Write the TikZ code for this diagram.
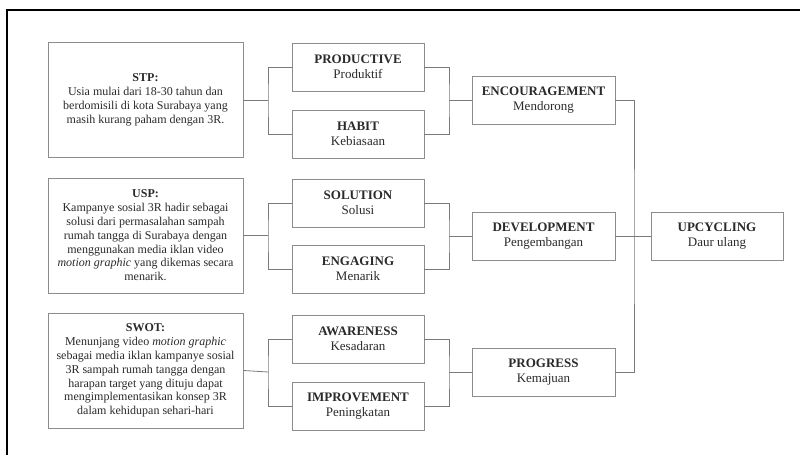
\documentclass[tikz,border=0pt]{standalone}
\usepackage{fontspec}
\setmainfont{Liberation Serif}
\definecolor{boxgray}{HTML}{8C8C8C}
\definecolor{linegray}{HTML}{7A7A7A}
\definecolor{txt}{HTML}{2A2A2A}
\begin{document}
\begin{tikzpicture}[x=1pt,y=-1pt,
  lbox/.style={draw=boxgray,line width=0.8pt,fill=white,text=txt,minimum width=195pt,minimum height=115pt,align=center,inner sep=2pt,font=\fontsize{12}{13.8}\selectfont},
  mbox/.style={draw=boxgray,line width=0.8pt,fill=white,text=txt,minimum width=132pt,minimum height=48pt,align=center,inner sep=2pt,font=\fontsize{13}{15}\selectfont},
  rbox/.style={mbox,minimum width=143pt},
  conn/.style={draw=linegray,line width=0.8pt}]
\useasboundingbox (0,0) rectangle (800,455);
\fill[white] (0,0) rectangle (800,455);
\draw[line width=2pt] (7,455) -- (7,10) -- (800,10);

% left boxes
\node[lbox] (stp) at (145.5,100) {\textbf{STP:}\\Usia mulai dari 18-30 tahun dan\\berdomisili di kota Surabaya yang\\masih kurang paham dengan 3R.};
\node[lbox] (usp) at (145.5,235.5) {\textbf{USP:}\\Kampanye sosial 3R hadir sebagai\\solusi dari permasalahan sampah\\rumah tangga di Surabaya dengan\\menggunakan media iklan video\\\textit{motion graphic} yang dikemas secara\\menarik.};
\node[lbox] (swot) at (145.5,370.5) {\textbf{SWOT:}\\Menunjang video \textit{motion graphic}\\sebagai media iklan kampanye sosial\\3R sampah rumah tangga dengan\\harapan target yang dituju dapat\\mengimplementasikan konsep 3R\\dalam kehidupan sehari-hari};

% middle boxes
\node[mbox] (productive) at (358,67) {\textbf{PRODUCTIVE}\\Produktif};
\node[mbox] (habit) at (358,134) {\textbf{HABIT}\\Kebiasaan};
\node[mbox] (solution) at (358,203) {\textbf{SOLUTION}\\Solusi};
\node[mbox] (engaging) at (358,269) {\textbf{ENGAGING}\\Menarik};
\node[mbox] (awareness) at (358,339) {\textbf{AWARENESS}\\Kesadaran};
\node[mbox] (improvement) at (358,406) {\textbf{IMPROVEMENT}\\Peningkatan};

% right boxes
\node[rbox] (encouragement) at (543.5,100) {\textbf{ENCOURAGEMENT}\\Mendorong};
\node[rbox] (development) at (543.5,236.5) {\textbf{DEVELOPMENT}\\Pengembangan};
\node[rbox] (progress) at (543.5,372) {\textbf{PROGRESS}\\Kemajuan};
\node[mbox] (upcycling) at (717,236.5) {\textbf{UPCYCLING}\\Daur ulang};

% junctions
\coordinate (j1) at (268,100);
\coordinate (j2) at (268,235.5);
\coordinate (j3) at (268,372);
\coordinate (k1) at (449,100);
\coordinate (k2) at (449,236.5);
\coordinate (k3) at (449,372);
\coordinate (m) at (634,236.5);

% connectors
\draw[conn] (stp.east) -- (j1);
\draw[conn] (productive.west) -| (j1) |- (habit.west);
\draw[conn] (usp.east) -- (j2);
\draw[conn] (solution.west) -| (j2) |- (engaging.west);
\draw[conn] (swot.east) -- (j3);
\draw[conn] (awareness.west) -| (j3) |- (improvement.west);

\draw[conn] (productive.east) -| (k1) |- (habit.east);
\draw[conn] (k1) -- (encouragement.west);
\draw[conn] (solution.east) -| (k2) |- (engaging.east);
\draw[conn] (k2) -- (development.west);
\draw[conn] (awareness.east) -| (k3) |- (improvement.east);
\draw[conn] (k3) -- (progress.west);

\draw[conn] (encouragement.east) -| (m) |- (progress.east);
\draw[conn] (development.east) -- (upcycling.west);
\end{tikzpicture}
\end{document}
